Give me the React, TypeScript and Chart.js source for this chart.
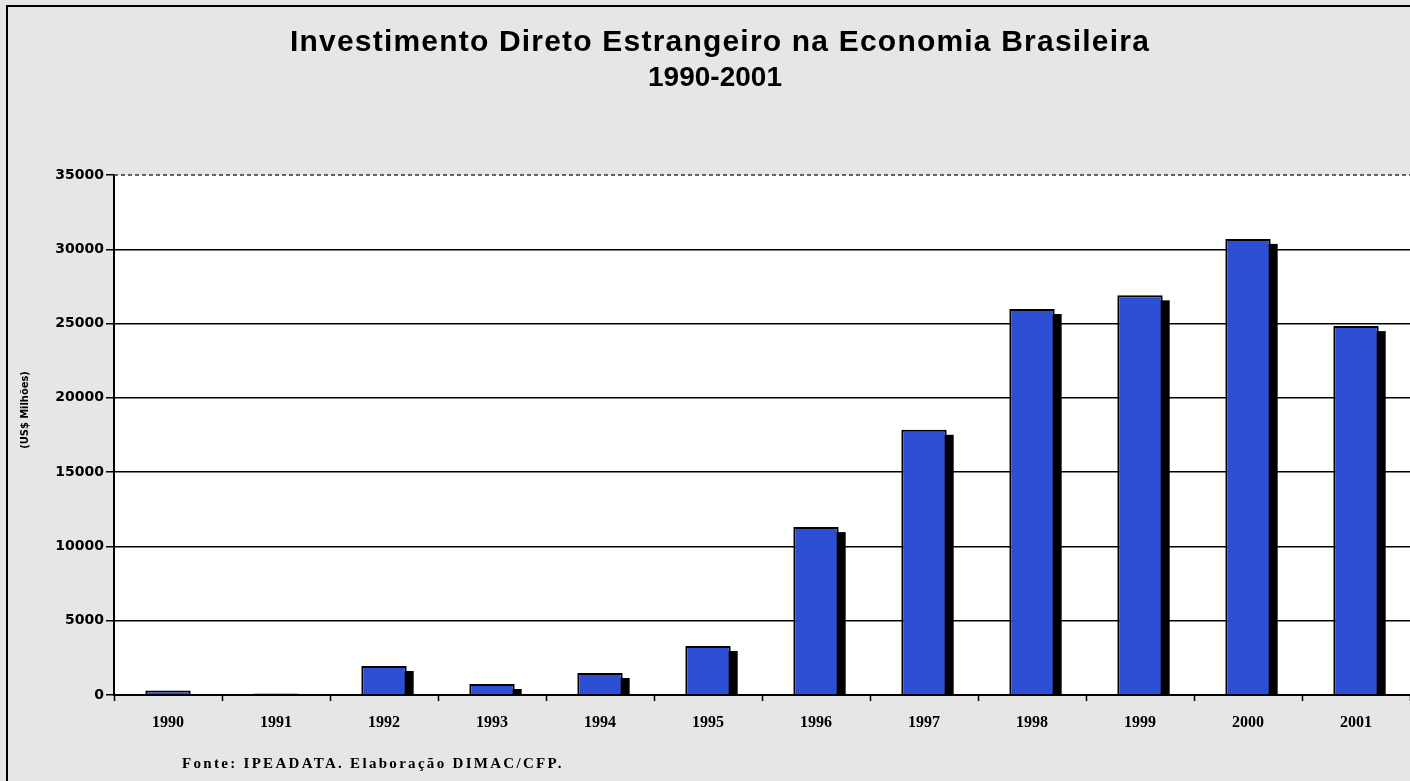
import React, { useEffect, useRef } from "react";
import { Chart, registerables } from "chart.js";

Chart.register(...registerables);

const titleLines = ["Investimento Direto Estrangeiro na Economia Brasileira", "1990-2001"];
const yAxisTitle = "(US$ Milhões)";
const sourceNote = "Fonte: IPEADATA. Elaboração DIMAC/CFP.";
const years = ["1990", "1991", "1992", "1993", "1994", "1995", "1996", "1997", "1998", "1999", "2000", "2001"];
const investment = [300, 100, 1950, 740, 1480, 3300, 11300, 17850, 25980, 26900, 30700, 24830];
const yTicks = [0, 5000, 10000, 15000, 20000, 25000, 30000, 35000];

const decorPlugin = {
  id: "decor",
  beforeDraw(chart: any) {
    const { ctx, chartArea, width, height } = chart;
    ctx.save();
    ctx.fillStyle = "#e6e6e6";
    ctx.fillRect(0, 0, width, height);
    ctx.fillStyle = "#ffffff";
    ctx.fillRect(chartArea.left, chartArea.top, chartArea.right - chartArea.left, chartArea.bottom - chartArea.top);
    // frame
    ctx.strokeStyle = "#000";
    ctx.lineWidth = 2;
    ctx.beginPath();
    ctx.moveTo(7, height);
    ctx.lineTo(7, 6);
    ctx.lineTo(width, 6);
    ctx.stroke();
    // title
    ctx.fillStyle = "#000";
    ctx.textAlign = "center";
    ctx.textBaseline = "middle";
    ctx.font = "bold 30px 'Liberation Sans', Arial, sans-serif";
    (ctx as any).letterSpacing = "1.2px";
    ctx.fillText(titleLines[0], 720, 43);
    (ctx as any).letterSpacing = "0px";
    ctx.font = "bold 28px 'Liberation Sans', Arial, sans-serif";
    ctx.fillText(titleLines[1], 715, 78);
    // y axis title
    ctx.save();
    ctx.translate(25, 410);
    ctx.rotate(-Math.PI / 2);
    ctx.font = "bold 11px 'DejaVu Sans Condensed', 'DejaVu Sans', sans-serif";
    ctx.fillText(yAxisTitle, 0, 0);
    ctx.restore();
    // source note
    ctx.textAlign = "left";
    ctx.font = "bold 15px 'Liberation Serif', 'Times New Roman', serif";
    (ctx as any).letterSpacing = "2.3px";
    ctx.fillText(sourceNote, 182, 764);
    (ctx as any).letterSpacing = "0px";
    ctx.restore();
  },
  beforeDatasetsDraw(chart: any) {
    const { ctx, chartArea } = chart;
    ctx.save();
    ctx.strokeStyle = "#333";
    ctx.lineWidth = 1.5;
    ctx.setLineDash([4, 3]);
    ctx.beginPath();
    ctx.moveTo(chartArea.left, chartArea.top);
    ctx.lineTo(chartArea.right, chartArea.top);
    ctx.stroke();
    ctx.restore();
    // bar shadows
    ctx.save();
    ctx.beginPath();
    ctx.rect(chartArea.left, chartArea.top, chartArea.right - chartArea.left, chartArea.bottom - chartArea.top);
    ctx.clip();
    ctx.fillStyle = "#000";
    const meta = chart.getDatasetMeta(0);
    meta.data.forEach((bar: any) => {
      const p = bar.getProps(["x", "y", "base", "width"], true);
      const left = p.x - p.width / 2 + 7;
      const top = p.y + 5;
      ctx.fillRect(left, top, p.width, p.base - top + 2);
    });
    ctx.restore();
  },
};

export default function App() {
  const canvasRef = useRef<HTMLCanvasElement | null>(null);

  useEffect(() => {
    if (!canvasRef.current) return;
    const chart = new Chart(canvasRef.current, {
      type: "bar",
      data: {
        labels: years,
        datasets: [
          {
            data: investment,
            backgroundColor: "#2e4fd4",
            borderColor: "#000",
            borderWidth: 2,
            barPercentage: 0.42,
            categoryPercentage: 1,
          },
        ],
      },
      options: {
        animation: false,
        responsive: false,
        maintainAspectRatio: false,
        layout: { padding: { top: 175, left: 0, right: 0, bottom: 0 } },
        plugins: {
          legend: { display: false },
          title: { display: false },
          tooltip: { enabled: false },
        },
        scales: {
          x: {
            offset: true,
            grid: {
              offset: true,
              drawOnChartArea: false,
              drawTicks: true,
              tickLength: 6,
              tickColor: "#000",
              tickWidth: 1.5,
            },
            border: { display: true, color: "#000", width: 2 },
            ticks: {
              color: "#000",
              padding: 12,
              font: { family: "'Liberation Serif', 'Times New Roman', serif", size: 16, weight: "bold" },
            },
            afterFit(scale: any) {
              scale.height = 86;
            },
          },
          y: {
            min: 0,
            max: 35000,
            afterBuildTicks(scale: any) {
              scale.ticks = yTicks.map((v) => ({ value: v }));
            },
            grid: {
              color: (c: any) => (c.tick && c.tick.value === 35000 ? "rgba(0,0,0,0)" : "#000"),
              lineWidth: 1.5,
              tickColor: "#000",
              tickLength: 8,
              tickWidth: 1.5,
            },
            border: { display: true, color: "#000", width: 2 },
            ticks: {
              color: "#000",
              padding: 2,
              callback: (v: any) => String(v),
              font: { family: "'DejaVu Sans', Verdana, sans-serif", size: 14, weight: "bold" },
            },
            afterFit(scale: any) {
              scale.width = 114;
            },
          },
        },
      },
      plugins: [decorPlugin],
    });
    return () => chart.destroy();
  }, []);

  return (
    <div style={{ position: "fixed", left: 0, top: 0, width: 1410, height: 781, overflow: "hidden" }}>
      <canvas ref={canvasRef} width={1410} height={781} style={{ display: "block", width: 1410, height: 781 }} />
    </div>
  );
}
